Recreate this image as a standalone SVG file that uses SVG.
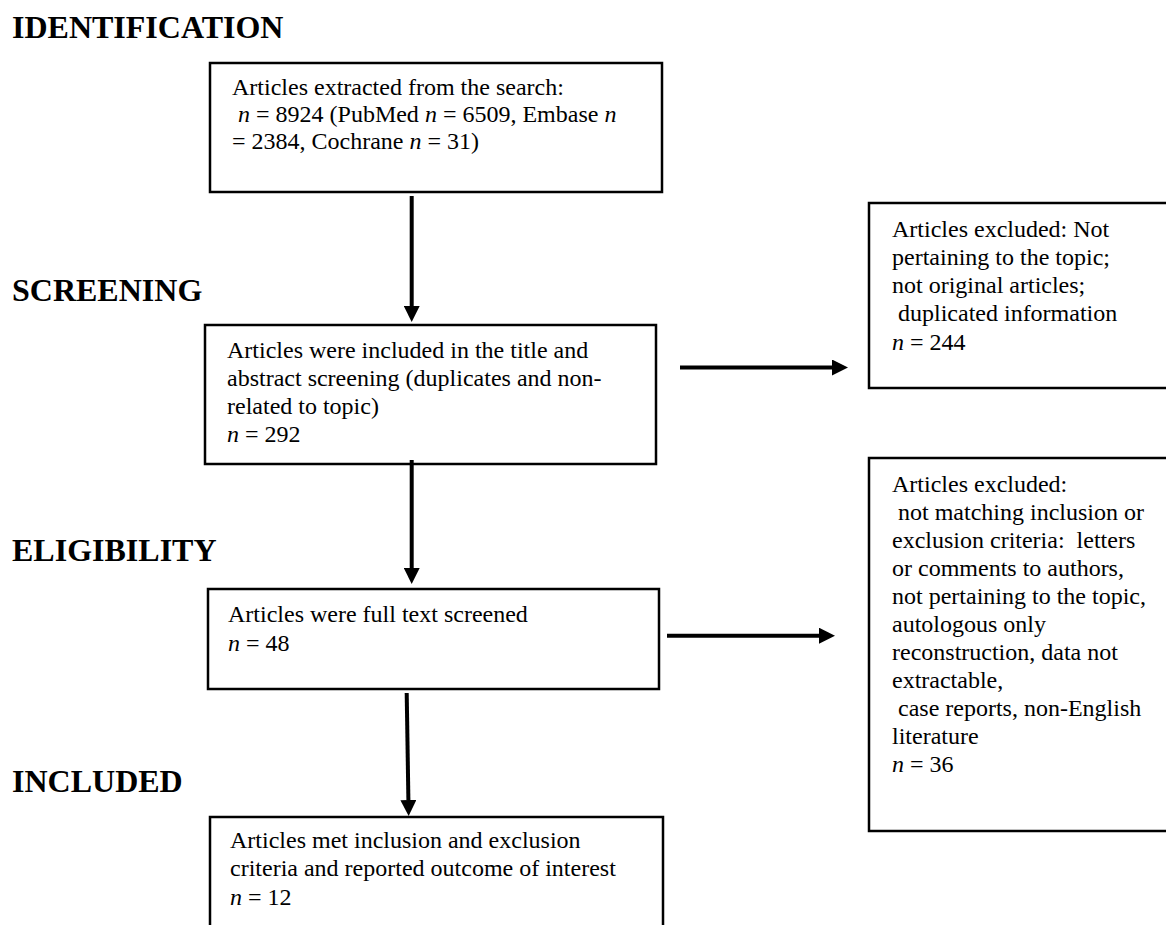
<svg xmlns="http://www.w3.org/2000/svg" width="1166" height="925" viewBox="0 0 1166 925">
<style>
.bg{fill:#ffffff}
.box{fill:#ffffff;stroke:#000000;stroke-width:2.5}
.t{font-family:"Liberation Serif","Times New Roman",serif;font-size:24px;fill:#000000}
.i{font-style:italic}
.h{font-family:"Liberation Serif","Times New Roman",serif;font-size:32px;font-weight:bold;fill:#000000}
.c{fill:none;stroke:#000000;stroke-width:4}
</style>
<defs>
<marker id="ah" viewBox="0 0 16 16" refX="0" refY="8" markerWidth="16" markerHeight="16" markerUnits="userSpaceOnUse" orient="auto">
<path d="M0,0 L16,8 L0,16 z" fill="#000000"/>
</marker>
</defs>
<rect class="bg" x="0" y="0" width="1166" height="925"/>
<g id="headings">
<text class="h" x="12" y="38">IDENTIFICATION</text>
<text class="h" x="12" y="301">SCREENING</text>
<text class="h" x="12" y="561">ELIGIBILITY</text>
<text class="h" x="12" y="792">INCLUDED</text>
</g>
<g id="n1">
<rect class="box" x="210" y="63" width="452" height="129"/>
<text class="t" x="232" y="95">Articles extracted from the search:</text>
<text class="t" x="238" y="122"><tspan class="i">n</tspan> = 8924 (PubMed <tspan class="i">n</tspan> = 6509, Embase <tspan class="i">n</tspan></text>
<text class="t" x="232" y="149">= 2384, Cochrane <tspan class="i">n</tspan> = 31)</text>
</g>
<g id="n2">
<rect class="box" x="205" y="325" width="451" height="139"/>
<text class="t" x="227" y="358">Articles were included in the title and</text>
<text class="t" x="227" y="386">abstract screening (duplicates and non-</text>
<text class="t" x="227" y="414">related to topic)</text>
<text class="t" x="227" y="442"><tspan class="i">n</tspan> = 292</text>
</g>
<g id="n3">
<rect class="box" x="869" y="203" width="310" height="185"/>
<text class="t" x="892" y="237">Articles excluded: Not</text>
<text class="t" x="892" y="265">pertaining to the topic;</text>
<text class="t" x="892" y="293">not original articles;</text>
<text class="t" x="898" y="321">duplicated information</text>
<text class="t" x="892" y="350"><tspan class="i">n</tspan> = 244</text>
</g>
<g id="n4">
<rect class="box" x="208" y="589" width="451" height="100"/>
<text class="t" x="228" y="622">Articles were full text screened</text>
<text class="t" x="228" y="651"><tspan class="i">n</tspan> = 48</text>
</g>
<g id="n5">
<rect class="box" x="869" y="458" width="310" height="373"/>
<text class="t" x="892" y="492">Articles excluded:</text>
<text class="t" x="898" y="520">not matching inclusion or</text>
<text class="t" x="892" y="548" xml:space="preserve">exclusion criteria:  letters</text>
<text class="t" x="892" y="576">or comments to authors,</text>
<text class="t" x="892" y="604">not pertaining to the topic,</text>
<text class="t" x="892" y="632">autologous only</text>
<text class="t" x="892" y="660">reconstruction, data not</text>
<text class="t" x="892" y="688">extractable,</text>
<text class="t" x="898" y="716">case reports, non-English</text>
<text class="t" x="892" y="744">literature</text>
<text class="t" x="892" y="772"><tspan class="i">n</tspan> = 36</text>
</g>
<g id="n6">
<rect class="box" x="210" y="817" width="453" height="130"/>
<text class="t" x="230" y="848">Articles met inclusion and exclusion</text>
<text class="t" x="230" y="876">criteria and reported outcome of interest</text>
<text class="t" x="230" y="905"><tspan class="i">n</tspan> = 12</text>
</g>
<g id="connectors">
<path class="c" d="M411.7,196 L411.7,306" marker-end="url(#ah)"/>
<path class="c" d="M411.7,460 L411.7,568" marker-end="url(#ah)"/>
<path class="c" d="M406.7,693 L408.4,800" marker-end="url(#ah)"/>
<path class="c" d="M680,367.5 L832,367.5" marker-end="url(#ah)"/>
<path class="c" d="M667,635.7 L819,635.7" marker-end="url(#ah)"/>
</g>
</svg>
